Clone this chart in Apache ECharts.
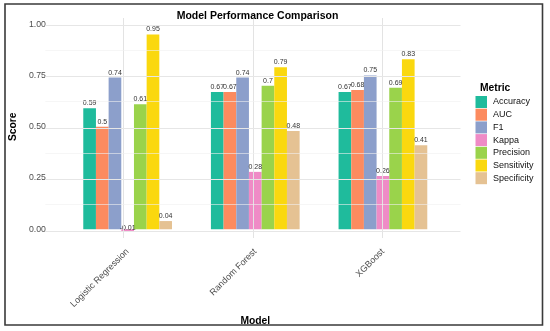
<!DOCTYPE html>
<html>
<head>
<meta charset="utf-8">
<script src="https://cdn.jsdelivr.net/npm/echarts@6/dist/echarts.min.js"></script>
<style>
html,body{margin:0;padding:0;background:#fff;}
#chart{width:550px;height:331px;}
</style>
</head>
<body>
<div id="chart"></div>
<script>
// ---- data ----
var categories = ['Logistic Regression', 'Random Forest', 'XGBoost'];
var metrics = ['Accuracy', 'AUC', 'F1', 'Kappa', 'Precision', 'Sensitivity', 'Specificity'];
var accuracy    = [0.59, 0.67, 0.67];
var auc         = [0.5, 0.67, 0.68];
var f1          = [0.74, 0.74, 0.75];
var kappa       = [-0.01, 0.28, 0.26];
var precision   = [0.61, 0.7, 0.69];
var sensitivity = [0.95, 0.79, 0.83];
var specificity = [0.04, 0.48, 0.41];
var yTicks      = [0, 0.25, 0.5, 0.75, 1];
var yMinorTicks = [0.125, 0.375, 0.625, 0.875];
var colors = ['#1FBB9C', '#FC8B5F', '#8C9FCB', '#EF8BC6', '#9AD34B', '#FAD80F', '#E5C293'];

var seriesValues = [accuracy, auc, f1, kappa, precision, sensitivity, specificity];
var FONT = '"Liberation Sans", Arial, Helvetica, sans-serif';

var chart = echarts.init(document.getElementById('chart'), null, {renderer: 'canvas'});

var gridLines = [];
categories.forEach(function (c, i) { gridLines.push({xAxis: i, lineStyle: {color: '#e3e3e3', width: 1}}); });
yTicks.forEach(function (v) { gridLines.push({yAxis: v, lineStyle: {color: '#e6e6e6', width: 1}}); });
yMinorTicks.forEach(function (v) { gridLines.push({yAxis: v, lineStyle: {color: '#f0f0f0', width: 0.6}}); });

var series = [{
  type: 'scatter',
  xAxisIndex: 0, yAxisIndex: 0,
  data: [],
  silent: true,
  markLine: {
    silent: true, symbol: 'none', animation: false,
    label: {show: false},
    lineStyle: {type: 'solid'},
    data: gridLines
  }
}];

metrics.forEach(function (m, i) {
  series.push({
    name: m,
    type: 'bar',
    xAxisIndex: 1, yAxisIndex: 1,
    data: seriesValues[i].map(function (v) {
      // negative values: ggplot puts the label just above the value point
      return v < 0 ? {value: v, label: {offset: [0, 4]}} : v;
    }),
    clip: false,
    barGap: '0%',
    barCategoryGap: '30.5%',
    itemStyle: {color: colors[i]},
    label: {
      show: true, position: 'top', distance: 1.5,
      fontFamily: FONT, fontSize: 7, color: '#333',
      formatter: function (p) { return String(p.value); }
    },
    animation: false
  });
});

var option = {
  backgroundColor: '#fff',
  animation: false,
  color: colors,
  title: [{
    text: 'Model Performance Comparison',
    left: 252.5, top: 6, textAlign: 'center',
    textStyle: {fontFamily: FONT, fontSize: 10.5, fontWeight: 'bold', color: '#000'}
  }, {
    text: 'Metric',
    left: 475, top: 78,
    textStyle: {fontFamily: FONT, fontSize: 10.3, fontWeight: 'bold', color: '#000'}
  }],
  legend: {
    orient: 'vertical',
    left: 475.5, top: 96,
    icon: 'rect',
    itemWidth: 11.5, itemHeight: 12,
    itemGap: 0.7,
    padding: 0,
    data: metrics,
    textStyle: {fontFamily: FONT, fontSize: 9, color: '#111', padding: [0, 0, 0, 1]}
  },
  grid: [
    {left: 45.3, top: 18, width: 415.2, height: 220, containLabel: false},
    {left: 58.25, top: 24.3, width: 388.5, height: 205.7, containLabel: false}
  ],
  xAxis: [
    {type: 'value', gridIndex: 0, min: -0.6, max: 2.6, show: false},
    {
      type: 'category', gridIndex: 1, data: categories,
      axisLine: {show: false}, axisTick: {show: false}, splitLine: {show: false},
      axisLabel: {rotate: 45, margin: 21, interval: 0, fontFamily: FONT, fontSize: 9, color: '#4d4d4d'},
      name: 'Model', nameLocation: 'middle', nameGap: 78,
      nameTextStyle: {fontFamily: FONT, fontSize: 10.3, fontWeight: 'bold', color: '#000'}
    }
  ],
  yAxis: [
    {type: 'value', gridIndex: 0, min: -0.0345, max: 1.0355, show: false},
    {
      type: 'value', gridIndex: 1, min: 0, max: 1, interval: 0.25,
      axisLine: {show: false}, axisTick: {show: false}, splitLine: {show: false},
      axisLabel: {margin: 18, fontFamily: FONT, fontSize: 8.7, color: '#4d4d4d',
        formatter: function (v) { return v.toFixed(2); }},
      name: 'Score', nameLocation: 'middle', nameGap: 36, nameRotate: 90,
      nameTextStyle: {fontFamily: FONT, fontSize: 10.3, fontWeight: 'bold', color: '#000'}
    }
  ],
  graphic: [{
    type: 'rect', silent: true, z: 100,
    shape: {x: 5, y: 4, width: 537.5, height: 321},
    style: {fill: 'none', stroke: '#3a3a3a', lineWidth: 1.6}
  }],
  series: series
};
chart.setOption(option);
</script>
</body>
</html>
